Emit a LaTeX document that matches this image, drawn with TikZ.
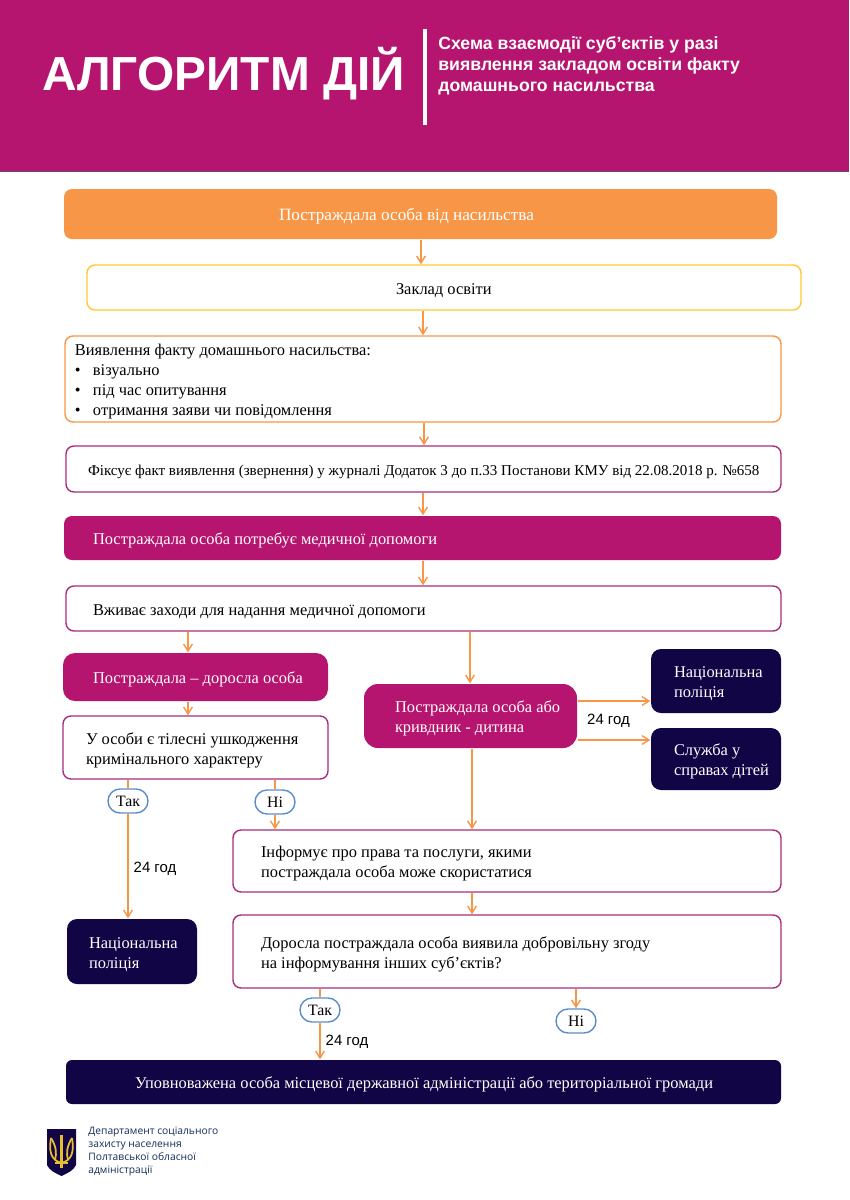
\documentclass[tikz,border=0pt]{standalone}
\usepackage{fontspec}
\usetikzlibrary{arrows.meta}
\setmainfont{Liberation Serif}
\setsansfont{Liberation Sans}
\newfontfamily\footfont{Open Sans}
\definecolor{mymagenta}{RGB}{181,21,111}
\definecolor{myorange}{RGB}{247,150,70}
\definecolor{myyellow}{RGB}{255,200,50}
\definecolor{mynavy}{RGB}{18,5,69}
\definecolor{myborder}{RGB}{170,45,125}
\definecolor{mypill}{RGB}{91,141,205}
\definecolor{mygold}{RGB}{230,190,50}
\definecolor{mydept}{RGB}{20,45,90}
\definecolor{myedge}{RGB}{115,65,125}
\newcommand{\bulletitem}{\makebox[0.36cm][l]{•}}
\tikzset{
  boxsize/.style n args={3}{text width=#1*0.02cm, inner xsep=0pt, minimum height=#3*0.02cm, inner ysep=0pt, execute at begin node={\leftskip=\dimexpr 0.02cm*#2\relax\rule{0pt}{9.5pt}}},
  basebox/.style={rectangle, rounded corners=8*0.02cm, align=flush left, font=\fontsize{9.35}{11.3}\selectfont, line width=0.8pt},
  outlinebox/.style={basebox, draw=myborder, fill=white, text=black},
  magentabox/.style={basebox, fill=mymagenta, text=white},
  navybox/.style={basebox, fill=mynavy, text=white},
  pill/.style={rectangle, rounded corners=12*0.02cm, draw=mypill, fill=white, line width=0.8pt, minimum width=40*0.02cm, minimum height=24*0.02cm, inner sep=0pt, font=\fontsize{9}{11}\selectfont},
  flow/.style={-{Straight Barb[length=4pt,width=5pt]}, draw=myorange, line width=0.8pt},
  flowplain/.style={draw=myorange, line width=0.8pt},
  hours/.style={font=\sffamily\fontsize{8.5}{10}\selectfont, inner sep=0pt}
}
\begin{document}
\begin{tikzpicture}[x=0.02cm,y=-0.02cm]
\useasboundingbox (0,0) rectangle (849,1200);
% header
\node (header) [rectangle, fill=mymagenta, minimum width=849*0.02cm, minimum height=171*0.02cm, inner sep=0pt] at (424.5,85.5) {};
\draw [myedge, line width=0.5pt] (header.north west) -- (header.north east);
\draw [myedge, line width=0.5pt] (header.south west) -- (header.south east);
\node (title) [anchor=base west, inner sep=0pt, text=white, font=\sffamily\bfseries\fontsize{27.2}{30}\selectfont] at (42,90) {АЛГОРИТМ ДІЙ};
\coordinate (bartop) at (425,29);
\coordinate (barbot) at (425,125);
\draw [white, line width=1.8pt] (bartop) -- (barbot);
\node (subtitle) [anchor=north west, inner sep=0pt, align=left, text=white, font=\sffamily\bfseries\fontsize{10.05}{11.9}\selectfont] at (438,36) {Схема взаємодії суб’єктів у разі\\виявлення закладом освіти факту\\домашнього насильства};

% main column
\node (victim) [basebox, fill=myorange, text=white, boxsize={713}{215}{50}, font=\fontsize{9.8}{12}\selectfont] at (420.5,214) {Постраждала особа від насильства};
\node (school) [outlinebox, draw=myyellow, boxsize={714}{309}{45}] at (444,287.5) {Заклад освіти};
\node (found) [outlinebox, draw=myorange, boxsize={716}{10}{86}] at (423,379) {Виявлення факту домашнього насильства:\\\bulletitem візуально\\\bulletitem під час опитування\\\bulletitem отримання заяви чи повідомлення};
\node (record) [outlinebox, boxsize={715}{22}{46}, font=\fontsize{8.55}{11}\selectfont] at (423.5,469) {Фіксує факт виявлення (звернення) у журналі Додаток 3 до п.33 Постанови КМУ від 22.08.2018 р. №658};
\node (needs) [magentabox, boxsize={717}{29}{44}] at (422.5,538) {Постраждала особа потребує медичної допомоги};
\node (medical) [outlinebox, boxsize={715}{27}{45}] at (423.5,608.5) {Вживає заходи для надання медичної допомоги};

% left branch
\node (adult) [magentabox, rounded corners=12*0.02cm, boxsize={265}{30}{48}] at (195.5,677) {Постраждала – доросла особа};
\node (injury) [outlinebox, boxsize={265}{23}{63}] at (195.5,747.5) {У особи є тілесні ушкодження\\кримінального характеру};
\node (yesleft) [pill] at (128,801) {Так};
\node (noleft) [pill] at (275,802) {Ні};
\node (policeleft) [navybox, rounded corners=10*0.02cm, boxsize={130}{22}{65}] at (132,951.5) {Національна\\поліція};

% right branch
\node (child) [magentabox, rounded corners=14*0.02cm, boxsize={213}{31}{64}] at (470.5,716) {Постраждала особа або\\кривдник - дитина};
\node (police) [navybox, rounded corners=10*0.02cm, boxsize={130}{23}{64}] at (716,681) {Національна\\поліція};
\node (service) [navybox, rounded corners=10*0.02cm, boxsize={130}{23}{62}] at (716,759) {Служба у\\справах дітей};
\node (inform) [outlinebox, boxsize={548}{28}{62}] at (507,861) {Інформує про права та послуги, якими\\постраждала особа може скористатися};
\node (consent) [outlinebox, boxsize={548}{28}{73}] at (507,951.5) {Доросла постраждала особа виявила добровільну згоду\\на інформування інших суб’єктів?};
\node (yesright) [pill] at (320,1010) {Так};
\node (noright) [pill] at (576,1021) {Ні};
\node (officer) [navybox, rounded corners=6*0.02cm, boxsize={715}{69}{44}] at (423.5,1082) {Уповноважена особа місцевої державної адміністрації або територіальної громади};

% hours
\node (hoursa) [hours] at (608.5,720.5) {24 год};
\node (hoursb) [hours] at (155,868.5) {24 год};
\node (hoursc) [hours] at (347,1041.5) {24 год};

% columns for the arrows
\coordinate (cola) at (421,0);
\coordinate (colb) at (423,0);
\coordinate (colc) at (424,0);
\coordinate (cold) at (188,0);
\coordinate (cole) at (470,0);
\coordinate (colf) at (472,0);
\coordinate (rowa) at (0,701);
\coordinate (rowb) at (0,740);

\draw [flow] (victim.south -| cola) -- (school.north -| cola);
\draw [flow] (school.south -| colb) -- (found.north -| colb);
\draw [flow] (found.south -| colc) -- (record.north -| colc);
\draw [flow] (record.south -| colb) -- (needs.north -| colb);
\draw [flow] (needs.south -| colb) -- (medical.north -| colb);
\draw [flow] (medical.south -| cold) -- (adult.north -| cold);
\draw [flow] (medical.south -| cole) -- (child.north -| cole);
\draw [flow] (adult.south -| cold) -- (injury.north -| cold);
\draw [flowplain] (injury.south -| yesleft) -- (yesleft.north);
\draw [flow] (yesleft.south) -- (policeleft.north -| yesleft);
\draw [flowplain] (injury.south -| noleft) -- (noleft.north);
\draw [flow] (noleft.south) -- (inform.north -| noleft);
\draw [flow] (child.south -| colf) -- (inform.north -| colf);
\draw [flow] (child.east |- rowa) -- (police.west |- rowa);
\draw [flow] (child.east |- rowb) -- (service.west |- rowb);
\draw [flow] (inform.south -| colf) -- (consent.north -| colf);
\draw [flowplain] (consent.south -| yesright) -- (yesright.north);
\draw [flow] (yesright.south) -- (officer.north -| yesright);
\draw [flow] (consent.south -| noright) -- (noright.north);

% footer
\fill [mynavy] (47,1129) -- (76,1129) -- (76,1165) .. controls (74,1170) and (68,1173) .. (61.5,1176) .. controls (55,1173) and (49,1170) .. (47,1165) -- cycle;
\draw [mygold, line width=1.4pt] (61.5,1135) -- (61.5,1168);
\draw [mygold, line width=1pt] (51,1138) .. controls (49,1150) and (50,1160) .. (61.5,1163) .. controls (73,1160) and (74,1150) .. (72,1138);
\draw [mygold, line width=1pt] (51,1138) .. controls (56,1146) and (57,1153) .. (55,1160);
\draw [mygold, line width=1pt] (72,1138) .. controls (67,1146) and (66,1153) .. (68,1160);
\draw [mygold, line width=1pt] (55,1163) -- (68,1163);
\node (dept) [anchor=north west, inner sep=0pt, align=left, text=mydept, font=\footfont\fontsize{5.85}{7.37}\selectfont] at (88,1127) {Департамент соціального\\захисту населення\\Полтавської обласної\\адміністрації};
\end{tikzpicture}
\end{document}
